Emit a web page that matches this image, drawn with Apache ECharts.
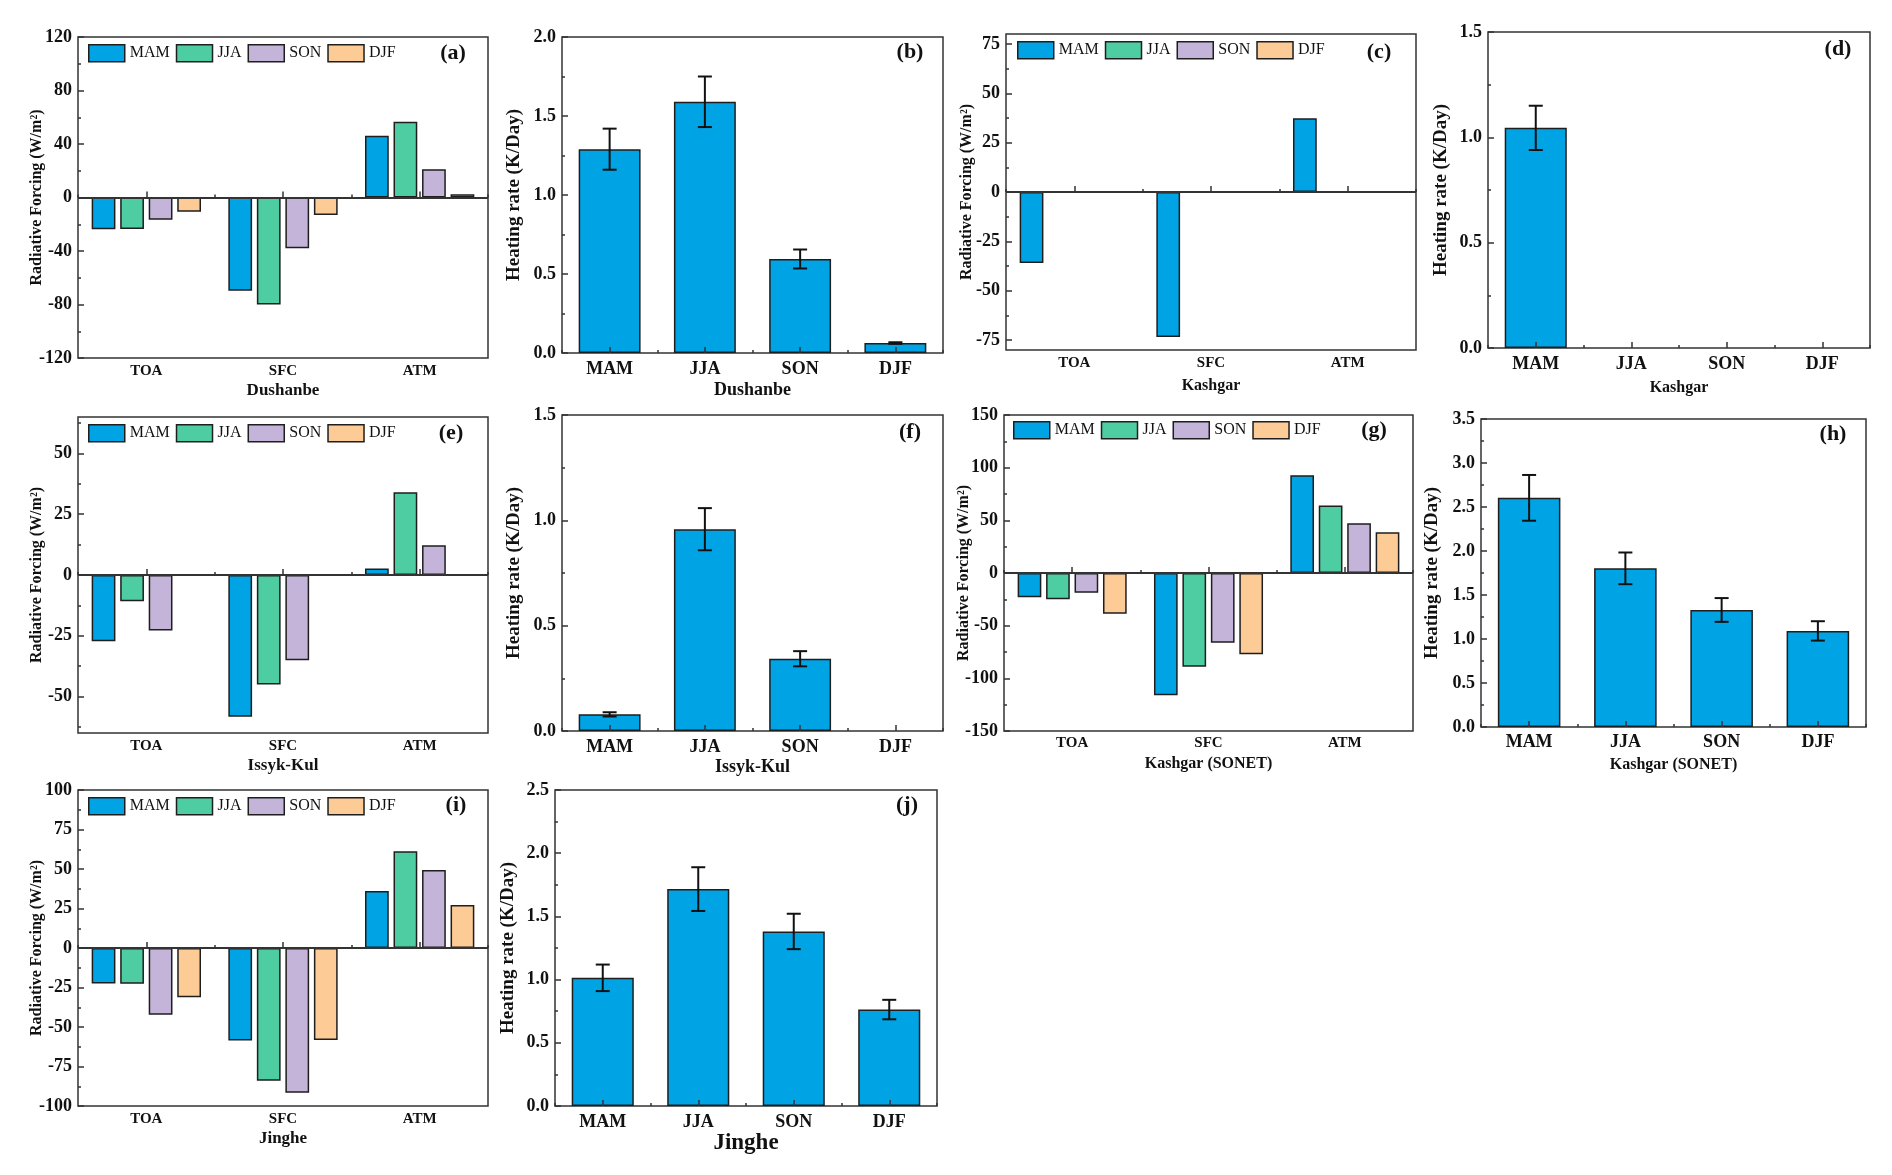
<!DOCTYPE html>
<html><head><meta charset="utf-8">
<script src="https://cdn.jsdelivr.net/npm/echarts@6/dist/echarts.min.js"></script>
<style>html,body{margin:0;padding:0;background:#fff}#chart{width:1892px;height:1175px}</style>
</head><body><div id="chart"></div>
<script>
// ---------- DATA ----------
const seasons = ['MAM', 'JJA', 'SON', 'DJF'];
const components = ['TOA', 'SFC', 'ATM'];

// Radiative forcing (W/m2), values ordered TOA, SFC, ATM
const rfDushanbe_MAM = [-23.7, -69.8, 46.1];
const rfDushanbe_JJA = [-23.5, -80.0, 56.6];
const rfDushanbe_SON = [-16.7, -37.9, 21.2];
const rfDushanbe_DJF = [-10.7, -13.0, 2.5];

const rfKashgar_MAM = [-36.0, -73.4, 37.4];
const rfKashgar_JJA = [null, null, null];
const rfKashgar_SON = [null, null, null];
const rfKashgar_DJF = [null, null, null];

const rfIssykKul_MAM = [-27.3, -58.3, 2.7];
const rfIssykKul_JJA = [-10.8, -45.0, 34.0];
const rfIssykKul_SON = [-22.8, -35.1, 12.2];
const rfIssykKul_DJF = [null, null, null];

const rfSonet_MAM = [-23.1, -116.1, 92.7];
const rfSonet_JJA = [-25.0, -88.9, 64.2];
const rfSonet_SON = [-18.7, -66.1, 47.2];
const rfSonet_DJF = [-38.6, -77.2, 38.6];

const rfJinghe_MAM = [-22.4, -58.6, 36.1];
const rfJinghe_JJA = [-22.6, -84.0, 61.2];
const rfJinghe_SON = [-42.2, -91.6, 49.4];
const rfJinghe_DJF = [-31.2, -58.2, 27.2];

// Heating rate (K/Day) per season MAM, JJA, SON, DJF and error
const hrDushanbe = [1.29, 1.59, 0.595, 0.063];
const hrDushanbeErr = [0.13, 0.16, 0.06, 0.005];
const hrKashgar = [1.045, null, null, null];
const hrKashgarErr = [0.105, null, null, null];
const hrIssykKul = [0.079, 0.958, 0.343, null];
const hrIssykKulErr = [0.01, 0.10, 0.036, null];
const hrSonet = [2.604, 1.803, 1.330, 1.092];
const hrSonetErr = [0.26, 0.18, 0.135, 0.11];
const hrJinghe = [1.014, 1.716, 1.381, 0.763];
const hrJingheErr = [0.105, 0.173, 0.14, 0.077];

// Axis ranges and tick labels
const rangeA = [-120, 120], ticksA = [-120, -80, -40, 0, 40, 80, 120];
const rangeB = [0, 2], ticksB = [0, 0.5, 1.0, 1.5, 2.0];
const rangeC = [-80, 80], ticksC = [-75, -50, -25, 0, 25, 50, 75];
const rangeD = [0, 1.5], ticksD = [0, 0.5, 1.0, 1.5];
const rangeE = [-65, 65], ticksE = [-50, -25, 0, 25, 50];
const rangeF = [0, 1.5], ticksF = [0, 0.5, 1.0, 1.5];
const rangeG = [-150, 150], ticksG = [-150, -100, -50, 0, 50, 100, 150];
const rangeH = [0, 3.5], ticksH = [0, 0.5, 1.0, 1.5, 2.0, 2.5, 3.0, 3.5];
const rangeI = [-100, 100], ticksI = [-100, -75, -50, -25, 0, 25, 50, 75, 100];
const rangeJ = [0, 2.5], ticksJ = [0, 0.5, 1.0, 1.5, 2.0, 2.5];

// ---------- STYLE ----------
const FONT = 'Liberation Serif';
const TXT = '#111';
const AX = '#333';
const EDGE = '#1e1e1e';
const colors = { MAM: '#00A3E4', JJA: '#4ECDA2', SON: '#C4B4DA', DJF: '#FCCB96' };
const HR_COLOR = '#00A3E4';

const panels = [
  { id: '(a)', kind: 'rf', box: [78, 37, 410, 321], vals: [rfDushanbe_MAM, rfDushanbe_JJA, rfDushanbe_SON, rfDushanbe_DJF], range: rangeA, ticks: ticksA, xname: 'Dushanbe', lab: [35, 16], leg: [10, 7], xGap: 24, xSize: 17, catSize: 15, catMargin: 6, yGap: 33 },
  { id: '(b)', kind: 'hr', box: [562, 37, 381, 316], vals: hrDushanbe, err: hrDushanbeErr, range: rangeB, ticks: ticksB, xname: 'Dushanbe', lab: [33, 15], xGap: 28, xSize: 18, catSize: 18, catMargin: 7, yGap: 38 },
  { id: '(c)', kind: 'rf', box: [1006, 34, 410, 316], vals: [rfKashgar_MAM, rfKashgar_JJA, rfKashgar_SON, rfKashgar_DJF], range: rangeC, ticks: ticksC, xname: 'Kashgar', lab: [37, 18], leg: [11, 7], xGap: 28, xSize: 16, catSize: 15, catMargin: 6, yGap: 31 },
  { id: '(d)', kind: 'hr', box: [1488, 32, 382, 316], vals: hrKashgar, err: hrKashgarErr, range: rangeD, ticks: ticksD, xname: 'Kashgar', lab: [32, 17], xGap: 32, xSize: 16, catSize: 18, catMargin: 7, yGap: 37 },
  { id: '(e)', kind: 'rf', box: [78, 417, 410, 316], vals: [rfIssykKul_MAM, rfIssykKul_JJA, rfIssykKul_SON, rfIssykKul_DJF], range: rangeE, ticks: ticksE, xname: 'Issyk-Kul', lab: [37, 16], leg: [10, 7], xGap: 24, xSize: 17, catSize: 15, catMargin: 6, yGap: 33 },
  { id: '(f)', kind: 'hr', box: [562, 415, 381, 316], vals: hrIssykKul, err: hrIssykKulErr, range: rangeF, ticks: ticksF, xname: 'Issyk-Kul', lab: [33, 17], xGap: 27, xSize: 18, catSize: 18, catMargin: 7, yGap: 38 },
  { id: '(g)', kind: 'rf', box: [1004, 415, 409, 316], vals: [rfSonet_MAM, rfSonet_JJA, rfSonet_SON, rfSonet_DJF], range: rangeG, ticks: ticksG, xname: 'Kashgar (SONET)', lab: [39, 15], leg: [9, 6], xGap: 25, xSize: 16, catSize: 15, catMargin: 5, yGap: 32 },
  { id: '(h)', kind: 'hr', box: [1481, 419, 385, 308], vals: hrSonet, err: hrSonetErr, range: rangeH, ticks: ticksH, xname: 'Kashgar (SONET)', lab: [33, 15], xGap: 30, xSize: 16, catSize: 18, catMargin: 6, yGap: 39 },
  { id: '(i)', kind: 'rf', box: [78, 790, 410, 316], vals: [rfJinghe_MAM, rfJinghe_JJA, rfJinghe_SON, rfJinghe_DJF], range: rangeI, ticks: ticksI, xname: 'Jinghe', lab: [32, 15], leg: [10, 7], xGap: 24, xSize: 17, catSize: 15, catMargin: 6, yGap: 33 },
  { id: '(j)', kind: 'hr', box: [555, 790, 382, 316], vals: hrJinghe, err: hrJingheErr, range: rangeJ, ticks: ticksJ, xname: 'Jinghe', lab: [30, 15], xGap: 26, xSize: 23, catSize: 18, catMargin: 7, yGap: 37 }
];

const option = {
  backgroundColor: '#fff', animation: false,
  textStyle: { fontFamily: FONT },
  grid: [], xAxis: [], yAxis: [], series: [], legend: [], graphic: []
};

function minorTicks(ticks, range) {
  const step = ticks[1] - ticks[0];
  const out = [];
  for (let v = ticks[0] - step / 2; v <= range[1] + 1e-9; v += step) {
    if (v >= range[0] - 1e-9) out.push(+v.toFixed(4));
  }
  return out;
}

const tickLine = { color: AX, width: 1.5 };

panels.forEach(p => {
  const [l, t, w, h] = p.box;
  const gi = option.grid.length;
  option.grid.push({ left: l, top: t, width: w, height: h, show: true, borderColor: AX, borderWidth: 1.5, backgroundColor: 'transparent' });
  const cats = p.kind === 'rf' ? components : seasons;
  const xi = option.xAxis.length;
  option.xAxis.push({
    type: 'category', gridIndex: gi, data: cats, position: 'bottom', z: 5,
    axisLine: { show: false },
    axisTick: { show: true, inside: true, alignWithLabel: true, length: 6, lineStyle: tickLine },
    axisLabel: { show: true, interval: 0, margin: p.catMargin, color: TXT, fontFamily: FONT, fontWeight: 'bold', fontSize: p.catSize },
    splitLine: { show: false },
    name: p.xname, nameLocation: 'middle', nameGap: p.xGap, nameMoveOverlap: false,
    nameTextStyle: { color: TXT, fontFamily: FONT, fontWeight: 'bold', fontSize: p.xSize }
  });
  option.xAxis.push({
    type: 'category', gridIndex: gi, data: cats, position: 'bottom', z: 5,
    axisLine: { show: false },
    axisTick: { show: true, inside: true, length: 3, lineStyle: tickLine },
    axisLabel: { show: false }, splitLine: { show: false }
  });
  const yi = option.yAxis.length;
  const isHR = p.kind === 'hr';
  option.yAxis.push({
    type: 'value', gridIndex: gi, min: p.range[0], max: p.range[1], position: 'left', z: 5,
    axisLine: { show: false }, splitLine: { show: false },
    axisTick: { show: true, inside: true, length: 6, customValues: p.ticks, lineStyle: tickLine },
    axisLabel: {
      show: true, customValues: p.ticks, margin: 6, color: TXT, fontFamily: FONT, fontWeight: 'bold', fontSize: 18,
      formatter: v => isHR ? Number(v).toFixed(1) : String(Math.round(v))
    },
    name: isHR ? 'Heating rate (K/Day)' : 'Radiative Forcing (W/m²)',
    nameLocation: 'middle', nameGap: p.yGap, nameMoveOverlap: false,
    nameTextStyle: { color: TXT, fontFamily: FONT, fontWeight: 'bold', fontSize: isHR ? 19 : 16 }
  });
  option.yAxis.push({
    type: 'value', gridIndex: gi, min: p.range[0], max: p.range[1], position: 'left', z: 5,
    axisLine: { show: false }, splitLine: { show: false }, axisLabel: { show: false },
    axisTick: { show: true, inside: true, length: 3, customValues: minorTicks(p.ticks, p.range), lineStyle: tickLine }
  });

  if (p.kind === 'rf') {
    seasons.forEach((s, k) => {
      const ser = {
        type: 'bar', name: s, xAxisIndex: xi, yAxisIndex: yi, data: p.vals[k],
        barGap: '20%', barCategoryGap: '20%', z: 2,
        itemStyle: { color: colors[s], borderColor: EDGE, borderWidth: 1.5 }
      };
      if (k === 0) {
        ser.markLine = {
          silent: true, symbol: 'none', label: { show: false }, animation: false,
          lineStyle: { color: AX, width: 2, type: 'solid' },
          emphasis: { disabled: true },
          data: [{ yAxis: 0 }]
        };
      }
      option.series.push(ser);
    });
    option.legend.push({
      left: l + p.leg[0], top: t + p.leg[1], orient: 'horizontal', padding: 0,
      data: seasons, icon: 'rect', itemWidth: 36, itemHeight: 17, itemGap: 6,
      selectedMode: false,
      itemStyle: { borderColor: EDGE, borderWidth: 1.5 },
      textStyle: { fontFamily: FONT, fontSize: 16, color: TXT }
    });
  } else {
    option.series.push({
      type: 'bar', name: 'HR ' + p.id, xAxisIndex: xi, yAxisIndex: yi, data: p.vals,
      barWidth: '65%', z: 2,
      itemStyle: { color: HR_COLOR, borderColor: EDGE, borderWidth: 1.5 }
    });
    const errData = [];
    p.vals.forEach((v, i) => { if (v != null) errData.push([i, v - p.err[i], v + p.err[i]]); });
    option.series.push({
      type: 'custom', name: 'err ' + p.id, xAxisIndex: xi, yAxisIndex: yi, z: 6,
      encode: { x: 0, y: [1, 2] },
      data: errData,
      renderItem: (params, api) => {
        const x = api.value(0);
        const lo = api.coord([x, api.value(1)]);
        const hi = api.coord([x, api.value(2)]);
        const cw = 7;
        const st = { stroke: '#111', lineWidth: 2 };
        return {
          type: 'group', children: [
            { type: 'line', shape: { x1: lo[0], y1: lo[1], x2: hi[0], y2: hi[1] }, style: st },
            { type: 'line', shape: { x1: lo[0] - cw, y1: lo[1], x2: lo[0] + cw, y2: lo[1] }, style: st },
            { type: 'line', shape: { x1: hi[0] - cw, y1: hi[1], x2: hi[0] + cw, y2: hi[1] }, style: st }
          ]
        };
      }
    });
  }
  option.graphic.push({
    type: 'text', x: l + w - p.lab[0], y: t + p.lab[1], z: 10,
    style: { text: p.id, fill: TXT, fontFamily: FONT, fontWeight: 'bold', fontSize: 22, align: 'center', verticalAlign: 'middle' }
  });
});

const chart = echarts.init(document.getElementById('chart'), null, { renderer: 'canvas' });
chart.setOption(option);
</script>
</body></html>
